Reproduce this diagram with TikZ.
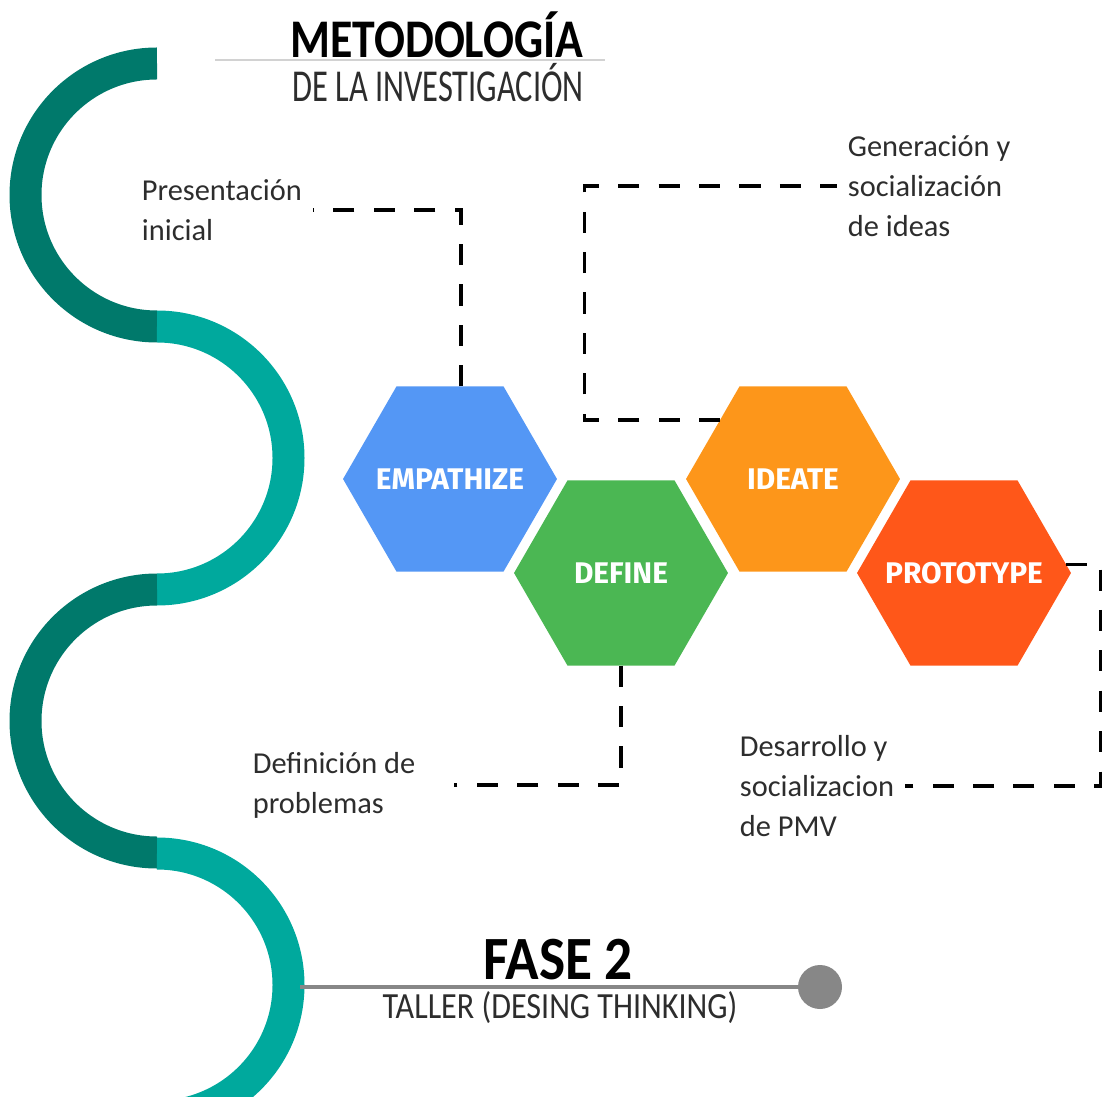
\documentclass[tikz,border=0pt]{standalone}
\usepackage{fontspec}
\usepackage{graphicx}
\setmainfont{Carlito}
\newfontfamily\hexfont{Fira Sans}
\usetikzlibrary{shapes,positioning,calc}

\definecolor{tealdark}{RGB}{0,121,107}
\definecolor{teallight}{RGB}{0,169,157}
\definecolor{empblue}{RGB}{84,151,245}
\definecolor{defgreen}{RGB}{75,183,83}
\definecolor{ideorange}{RGB}{253,150,26}
\definecolor{prored}{RGB}{255,87,25}
\definecolor{txtgray}{RGB}{45,45,45}
\definecolor{linegray}{RGB}{135,135,135}

\newcommand{\hextxt}[1]{\makebox[0pt]{#1}}

\begin{document}
\begin{tikzpicture}[x=0.02cm, y=0.02cm,
  hexa/.style={regular polygon, regular polygon sides=6, minimum size=4.28cm, inner sep=0pt, outer sep=0pt, text=white, font=\hexfont\bfseries\fontsize{17}{20}\selectfont},
  lbl/.style={anchor=west, align=left, inner sep=6pt, text=txtgray, font=\fontsize{17.3}{22.7}\selectfont},
  guide/.style={line width=1.8pt, dash pattern=on 12pt off 11pt},
  wave/.style={line width=0.64cm}]
\useasboundingbox (0,0) rectangle (1104,1096);
\clip (0,0) rectangle (1104,1096);

% onda lateral
\foreach \cy/\col/\ea in {901/tealdark/270, 638/teallight/-90, 375/tealdark/270, 111/teallight/-90}
  \draw[wave, \col] (157,\cy) ++(0,131.5) arc[start angle=90, end angle=\ea, radius=131.5];

% titulo
\node[font=\bfseries\fontsize{31}{31}\selectfont] (tit) at (437,1061) {\scalebox{0.84}[1]{METODOLOGÍA}};
\draw[gray!35, line width=1pt] (215,1036) -- (605,1036);
\node[text=txtgray, font=\fontsize{26}{26}\selectfont] (sub) at (438,1013) {\scalebox{0.71}[1]{DE LA INVESTIGACIÓN}};

% hexagonos
\node[hexa, fill=empblue] (emp) at (450,617) {\hextxt{EMPATHIZE}};
\node[hexa, fill=defgreen] (def) at (621,523) {\hextxt{DEFINE}};
\node[hexa, fill=ideorange] (ide) at (793,617) {\hextxt{IDEATE}};
\node[hexa, fill=prored] (pro) at (964,523) {\hextxt{PROTOTYPE}};

% etiquetas
\node[lbl] (pres) at (131,886) {Presentación\\inicial};
\node[lbl] (gen) at (837,910) {Generación y\\socialización\\de ideas};
\node[lbl] (defl) at (242,311) {Definición de\\problemas};
\node[lbl] (desl) at (729,310) {Desarrollo y\\socializacion\\de PMV};

\draw[guide] ($(emp.north)+(11,0)$) |- (pres.east);
\draw[guide] (ide.141) -- ++(-136,0) |- (gen.west);
\draw[guide] (def.south) |- ([xshift=0.56cm]defl.east);
\draw[guide] (pro.5) -- ++(35,0) |- (desl.east);

% fase 2
\coordinate (waveR) at (300,109);
\node[circle, fill=linegray, minimum size=0.88cm, inner sep=0pt] (dot) at (820,109) {};
\draw[linegray, line width=2.8pt] (waveR) -- (dot);
\node[font=\bfseries\fontsize{35}{35}\selectfont] (fase) at (558,136) {\scalebox{0.9}[1]{FASE 2}};
\node[text=txtgray, font=\fontsize{21}{21}\selectfont] (tall) at (560,88) {\scalebox{0.87}[1]{TALLER (DESING THINKING)}};
\end{tikzpicture}
\end{document}
